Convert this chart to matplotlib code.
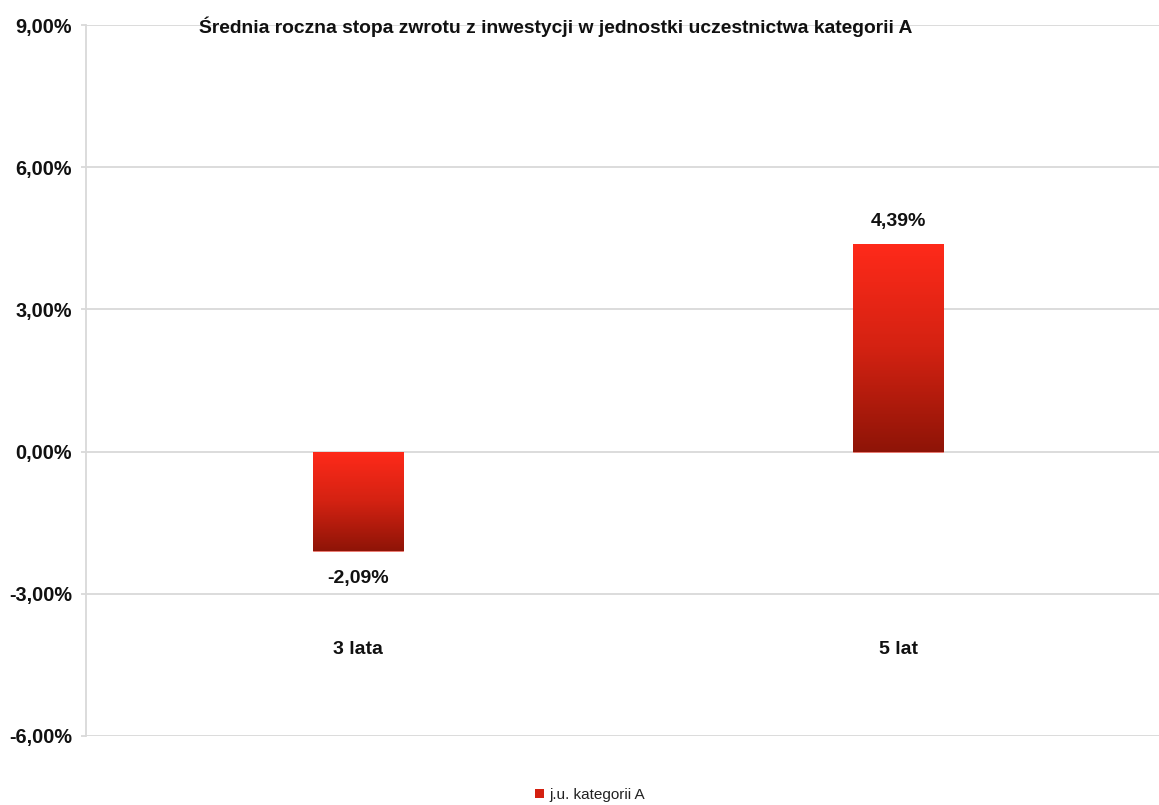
import numpy as np
import matplotlib.pyplot as plt
from matplotlib.colors import LinearSegmentedColormap
from matplotlib.patches import Patch
from matplotlib.ticker import FuncFormatter

plt.rcParams['font.family'] = ['Liberation Sans', 'DejaVu Sans']

categories = ["3 lata", "5 lat"]
values = [-2.09, 4.39]
series_name = "j.u. kategorii A"
title = "Średnia roczna stopa zwrotu z inwestycji w jednostki uczestnictwa kategorii A"
yticks = [-6, -3, 0, 3, 6, 9]

fig = plt.figure(figsize=(11.59, 8.05), dpi=100)
ax = fig.add_axes([86 / 1159, 1 - 736 / 805, 1 - 86 / 1159, (736 - 25) / 805])

grid_col = "#d9d9d9"
txt_col = "#111111"
cmap = LinearSegmentedColormap.from_list("redgrad", ["#8e1407", "#d42212", "#ff2a1a"])

x = np.arange(len(categories))
width = 0.167
bars = ax.bar(x, values, width=width, color="#e02414", edgecolor="none", zorder=3)

grad = np.linspace(0, 1, 256).reshape(-1, 1)
for b in bars:
    x0, y0 = b.get_x(), b.get_y()
    w, h = b.get_width(), b.get_height()
    ylo, yhi = min(y0, y0 + h), max(y0, y0 + h)
    im = ax.imshow(grad, cmap=cmap, aspect="auto", origin="lower",
                   extent=(x0, x0 + w, ylo, yhi), zorder=4)
    im.set_clip_path(b)
    b.set_edgecolor("#e87a70")
    b.set_linewidth(0.6)

for xi, v in zip(x, values):
    off = 16 if v >= 0 else -20
    ax.annotate(f"{v:.2f}%".replace(".", ","), (xi, v), xytext=(0, off),
                textcoords="offset points", ha="center", va="center",
                fontsize=14, fontweight="bold", color=txt_col, zorder=5)

for xi, c in zip(x, categories):
    ax.text(xi, -4.17, c, ha="center", va="center", fontsize=14,
            fontweight="bold", color=txt_col)

ax.set_xlim(-0.504, 1.483)
ax.set_ylim(-6, 9)
ax.set_yticks(yticks)
ax.yaxis.set_major_formatter(FuncFormatter(lambda v, p: f"{v:.2f}%".replace(".", ",")))
ax.set_xticks([])
ax.grid(axis="y", color=grid_col, linewidth=1.3, zorder=0)
ax.set_axisbelow(True)
for s in ["top", "right", "bottom"]:
    ax.spines[s].set_visible(False)
ax.spines["left"].set_color(grid_col)
ax.spines["left"].set_linewidth(1.3)
ax.tick_params(axis="y", length=3.6, color=grid_col, width=1.3, pad=6.5,
               labelsize=14.3, labelcolor=txt_col)
for lab in ax.get_yticklabels():
    lab.set_fontweight("bold")

fig.text(556 / 1159, 1 - 27 / 805, title, ha="center", va="center",
         fontsize=13.9, fontweight="bold", color=txt_col)

handle = Patch(facecolor="#d42010", edgecolor="none", label=series_name)
fig.legend(handles=[handle], loc="center", bbox_to_anchor=(590 / 1159, 1 - 795 / 805),
           frameon=False, fontsize=11, handlelength=0.6, handleheight=0.6,
           handletextpad=0.3, labelcolor="#222222")

fig.savefig("out.png", dpi=100)
